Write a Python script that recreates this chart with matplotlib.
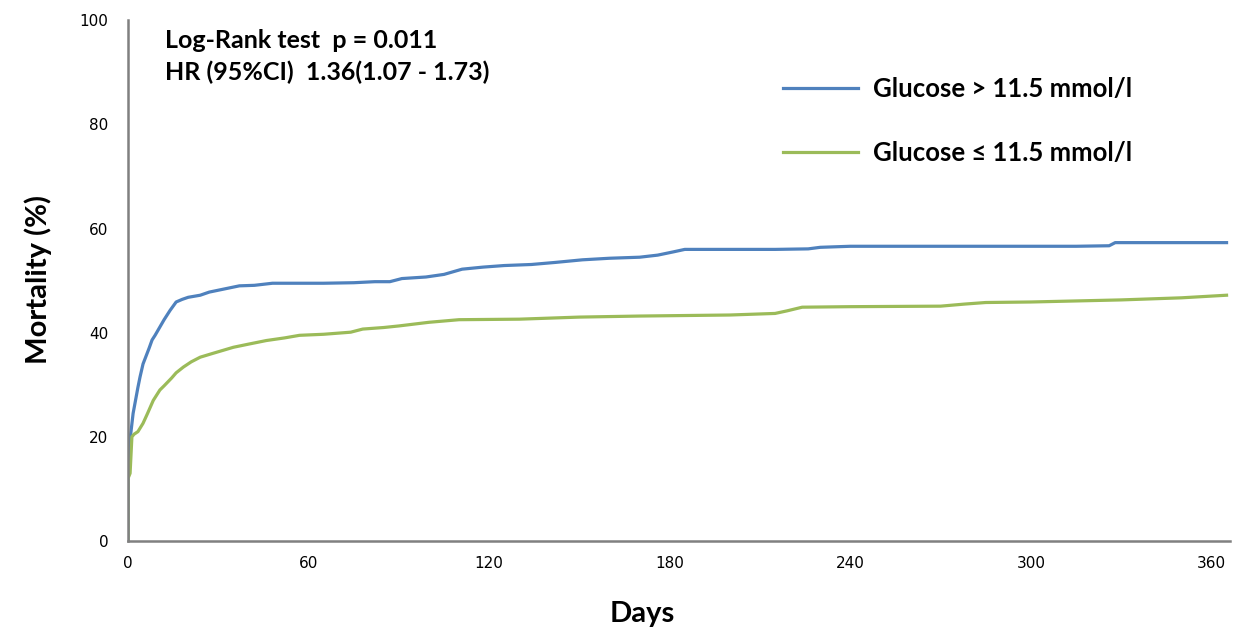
import matplotlib
matplotlib.use("Agg")
import matplotlib.pyplot as plt

# Kaplan-Meier style cumulative mortality (%)
days_high = [0, 0, 0.5, 1, 1.7, 2.5, 3.3, 4, 5, 6, 7, 8, 9, 10, 12, 14, 16, 18, 20, 24, 27,
             32, 37, 42, 48, 55, 65, 75, 82, 87, 91, 99, 105, 111, 118, 125, 134, 142, 151,
             160, 170, 176, 181, 185, 200, 215, 226, 230, 240, 260, 280, 300, 315, 326, 328,
             345, 365]
mort_high = [0, 14, 19, 21, 24.5, 27, 29.5, 31.5, 34, 35.5, 37, 38.6, 39.5, 40.5, 42.5, 44.3,
             45.9, 46.4, 46.8, 47.2, 47.8, 48.4, 49, 49.1, 49.5, 49.5, 49.5, 49.6, 49.8, 49.8,
             50.4, 50.7, 51.2, 52.2, 52.6, 52.9, 53.1, 53.5, 54.0, 54.3, 54.5, 54.9, 55.5, 56.0,
             56.0, 56.0, 56.1, 56.4, 56.6, 56.6, 56.6, 56.6, 56.6, 56.7, 57.3, 57.3, 57.3]

days_low = [0, 0, 0.7, 1.3, 2, 3.3, 5, 6.5, 8.4, 10.6, 12, 14.5, 16, 18.4, 21, 24, 28, 35,
            40, 46, 52, 57, 65, 74, 78, 85, 90, 100, 110, 130, 150, 170, 200, 215, 219,
            224, 240, 270, 278, 285, 300, 330, 350, 365]
mort_low = [0, 12, 13, 20, 20.5, 21, 22.6, 24.5, 27, 29, 29.8, 31.3, 32.3, 33.4, 34.4, 35.3,
            36, 37.2, 37.8, 38.5, 39, 39.5, 39.7, 40.1, 40.7, 41.0, 41.3, 42.0, 42.5, 42.6,
            43.0, 43.2, 43.4, 43.7, 44.2, 44.9, 45.0, 45.1, 45.5, 45.8, 45.9, 46.3, 46.7, 47.2]

x_ticks = [0, 60, 120, 180, 240, 300, 360]
y_ticks = [0, 20, 40, 60, 80, 100]

label_high = "Glucose > 11.5 mmol/l"
label_low = "Glucose \u2264 11.5 mmol/l"

plt.rcParams['font.family'] = ['Lato', 'DejaVu Sans']

fig = plt.figure(figsize=(12.45, 6.34), dpi=100)
ax = fig.add_axes([0.1028, 0.1467, 0.8848, 0.8213])

ax.plot(days_high, mort_high, color='#4f81bd', lw=2.3, label=label_high)
ax.plot(days_low, mort_low, color='#9bbb59', lw=2.3, label=label_low)

ax.set_xlim(0, 366)
ax.set_ylim(0, 100)
ax.set_xticks(x_ticks)
ax.set_yticks(y_ticks)
ax.tick_params(length=0, labelsize=11)
ax.tick_params(axis='y', pad=14)
ax.tick_params(axis='x', pad=11)
for lab in ax.get_xticklabels() + ax.get_yticklabels():
    lab.set_family(['Liberation Sans Narrow', 'DejaVu Sans'])

for side in ['top', 'right']:
    ax.spines[side].set_visible(False)
for side in ['left', 'bottom']:
    ax.spines[side].set_color('#808080')
    ax.spines[side].set_linewidth(1.8)

fig.text(38 / 1245, 1 - 280 / 634, "Mortality (%)", fontsize=21, fontweight='bold',
         rotation=90, ha='center', va='center')
fig.text(642 / 1245, 1 - 614 / 634, "Days", fontsize=21, fontweight='bold',
         ha='center', va='center')

fig.text(165 / 1245, 1 - 41 / 634, "Log-Rank test  p = 0.011", fontsize=18,
         fontweight='bold', va='center', ha='left')
fig.text(165 / 1245, 1 - 72 / 634, "HR (95%CI)  1.36(1.07 - 1.73)", fontsize=18,
         fontweight='bold', va='center', ha='left')

ax.legend(loc='upper left', bbox_to_anchor=(760 / 1245, 1 - 54 / 634),
          bbox_transform=fig.transFigure, frameon=False,
          prop={'size': 18.5, 'weight': 'bold'}, handlelength=2.9,
          handletextpad=0.6, labelspacing=1.55)

fig.savefig("out.png", dpi=100)
